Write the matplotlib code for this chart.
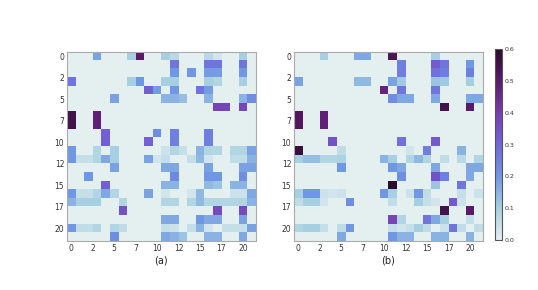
import numpy as np
import matplotlib
matplotlib.use("Agg")
import matplotlib.pyplot as plt
from matplotlib.colors import LinearSegmentedColormap
from matplotlib.ticker import FormatStrFormatter

# 22x22 weight maps
mat_a = [
    [0, 0, 0, .18, 0, 0, 0, .10, .50, 0, 0, .10, .07, 0, 0, 0, .07, .03, 0, 0, .10, 0],
    [0, 0, 0, 0, 0, 0, 0, 0, 0, 0, 0, 0, .27, 0, 0, 0, .27, .27, 0, 0, .27, 0],
    [0, 0, 0, 0, 0, 0, 0, 0, 0, 0, 0, 0, .20, 0, .20, 0, .19, .19, 0, 0, .20, 0],
    [.27, 0, 0, 0, 0, 0, 0, .10, .20, 0, 0, .10, .10, 0, 0, 0, .10, .08, 0, 0, .10, 0],
    [0, 0, 0, 0, 0, 0, 0, 0, 0, .32, .19, 0, .20, 0, 0, .28, .19, 0, 0, 0, 0, 0],
    [0, 0, 0, 0, 0, .18, 0, 0, 0, 0, 0, .15, .15, .13, 0, 0, .15, 0, 0, 0, .15, .22],
    [0, 0, 0, 0, 0, 0, 0, 0, 0, 0, 0, 0, 0, 0, 0, 0, 0, .38, .38, 0, .38, 0],
    [.55, 0, 0, .48, 0, 0, 0, 0, 0, 0, 0, 0, 0, 0, 0, 0, 0, 0, 0, 0, 0, 0],
    [.55, 0, 0, .48, 0, 0, 0, 0, 0, 0, 0, 0, 0, 0, 0, 0, 0, 0, 0, 0, 0, 0],
    [0, 0, 0, 0, .32, 0, 0, 0, 0, 0, .22, 0, .25, 0, 0, 0, .25, 0, 0, 0, 0, 0],
    [0, 0, 0, 0, .32, 0, 0, 0, 0, .32, 0, 0, .25, 0, 0, 0, .25, 0, 0, 0, 0, 0],
    [.20, 0, 0, .08, 0, .10, 0, 0, 0, 0, 0, .04, .08, .05, 0, .15, .08, .08, 0, .08, .08, .18],
    [.20, .05, .05, .08, .17, .10, 0, 0, 0, .18, .03, .05, 0, 0, .05, .14, .03, 0, 0, .06, .06, .15],
    [0, 0, 0, 0, 0, .18, 0, 0, 0, 0, 0, .17, .17, 0, 0, 0, .18, 0, 0, 0, .18, .18],
    [0, 0, .20, 0, 0, 0, 0, 0, 0, 0, 0, 0, .23, 0, 0, 0, .20, .20, 0, 0, .22, 0],
    [0, 0, 0, 0, .32, 0, 0, 0, 0, 0, 0, .15, .15, 0, 0, 0, .14, .12, 0, .15, .15, 0],
    [.20, .05, .05, .08, .17, .08, 0, 0, 0, .18, 0, .03, 0, 0, .03, .14, 0, 0, 0, .04, .04, .17],
    [.15, .10, .10, .10, 0, 0, .08, 0, 0, 0, 0, .08, .08, 0, .08, .14, .08, .08, .08, .08, .08, .15],
    [0, 0, 0, 0, 0, 0, .35, 0, 0, 0, 0, 0, 0, 0, 0, 0, 0, .37, 0, 0, .37, 0],
    [0, 0, 0, 0, 0, 0, 0, 0, 0, 0, 0, .17, .17, 0, 0, .20, .17, .17, 0, 0, .18, 0],
    [.20, .06, .06, .08, 0, .08, .06, 0, 0, 0, 0, .05, .04, 0, .05, .15, .03, 0, .05, .05, .05, .18],
    [0, 0, 0, 0, 0, .22, 0, 0, 0, 0, 0, .17, .15, .12, 0, 0, .15, .15, 0, 0, .17, 0],
]

mat_b = [
    [0, 0, 0, .10, 0, 0, 0, .17, .17, 0, 0, .53, 0, 0, 0, 0, .10, 0, 0, 0, 0, 0],
    [0, 0, 0, 0, 0, 0, 0, 0, 0, 0, 0, 0, .25, 0, 0, 0, .33, .27, 0, 0, .20, 0],
    [0, 0, 0, 0, 0, 0, 0, 0, 0, 0, 0, 0, .25, 0, 0, 0, .28, .25, 0, 0, .25, 0],
    [.18, 0, 0, 0, 0, 0, 0, .14, .14, 0, 0, .18, .11, 0, 0, 0, .12, .11, 0, 0, .10, 0],
    [0, 0, 0, 0, 0, 0, 0, 0, 0, 0, .47, 0, .27, 0, 0, 0, .27, 0, 0, 0, 0, 0],
    [0, 0, 0, 0, 0, 0, 0, 0, 0, 0, 0, .22, .17, .17, 0, 0, .17, 0, 0, 0, .17, .17],
    [0, 0, 0, 0, 0, 0, 0, 0, 0, 0, 0, 0, 0, 0, 0, 0, 0, .55, 0, 0, .50, 0],
    [.52, 0, 0, .48, 0, 0, 0, 0, 0, 0, 0, 0, 0, 0, 0, 0, 0, 0, 0, 0, 0, 0],
    [.52, 0, 0, .48, 0, 0, 0, 0, 0, 0, 0, 0, 0, 0, 0, 0, 0, 0, 0, 0, 0, 0],
    [0, 0, 0, 0, 0, 0, 0, 0, 0, 0, 0, 0, 0, 0, 0, 0, 0, 0, 0, 0, 0, 0],
    [0, 0, 0, 0, .35, 0, 0, 0, 0, 0, 0, 0, .28, 0, 0, 0, .33, 0, 0, 0, 0, 0],
    [.57, 0, 0, 0, 0, .06, 0, 0, 0, 0, 0, 0, 0, .03, 0, .25, 0, 0, 0, .15, 0, 0],
    [.10, .13, .13, .08, .08, .09, 0, 0, 0, 0, .15, .10, 0, .08, .14, .08, 0, .06, 0, .07, 0, .08],
    [0, 0, 0, 0, 0, .20, 0, 0, 0, 0, 0, .20, .17, 0, 0, 0, .17, 0, 0, 0, .17, .17],
    [0, 0, 0, 0, 0, 0, 0, 0, 0, 0, 0, 0, .22, 0, 0, 0, .35, .25, 0, 0, .17, 0],
    [0, 0, 0, 0, 0, 0, 0, 0, 0, 0, 0, .60, 0, 0, 0, 0, .12, 0, 0, .27, 0, 0],
    [.10, .20, .20, .04, .03, .04, 0, 0, 0, 0, .20, .10, 0, .04, .20, .06, 0, 0, 0, .05, 0, .04],
    [.06, .10, .10, .03, 0, 0, .22, 0, 0, 0, 0, .06, 0, 0, .10, .05, .03, 0, .33, .04, 0, 0],
    [0, 0, 0, 0, 0, 0, 0, 0, 0, 0, 0, 0, 0, 0, 0, 0, 0, .55, 0, 0, .50, 0],
    [0, 0, 0, 0, 0, 0, 0, 0, 0, 0, 0, .38, .08, 0, 0, .27, .17, .10, 0, 0, .05, 0],
    [.08, .10, .10, .05, 0, .06, .20, 0, 0, 0, 0, .05, .03, .05, .10, .06, 0, .04, .27, .06, 0, .06],
    [0, 0, 0, 0, 0, .17, 0, 0, 0, 0, 0, .20, .15, .15, 0, 0, .15, .15, 0, 0, .15, 0],
]

panel_labels = ["(a)", "(b)"]
tick_pos = np.arange(0, 21, 2.5)
cbar_ticks = [0.0, 0.1, 0.2, 0.3, 0.4, 0.5, 0.6]

cmap = LinearSegmentedColormap.from_list(
    "lightblue_purple",
    ["#e4eff0", "#a6cfe2", "#6f97e4", "#7168da", "#783db0", "#5c1a6a", "#2c0b2c"])

fig = plt.figure(figsize=(5.38, 2.90), dpi=100)
axes = [fig.add_axes([0.1245, 0.169, 0.351, 0.652]),
        fig.add_axes([0.5465, 0.169, 0.351, 0.652])]

for ax, mat, lab in zip(axes, [mat_a, mat_b], panel_labels):
    im = ax.imshow(np.array(mat), cmap=cmap, vmin=0, vmax=0.6,
                   interpolation="nearest", aspect="auto")
    ax.set_xticks(tick_pos)
    ax.set_yticks(tick_pos)
    ax.xaxis.set_major_formatter(FormatStrFormatter("%d"))
    ax.yaxis.set_major_formatter(FormatStrFormatter("%d"))
    ax.tick_params(length=0, labelsize=5.5, labelcolor="#333333", pad=2)
    for sp in ax.spines.values():
        sp.set_color("#aaaaaa")
        sp.set_linewidth(0.8)
    ax.set_xlabel(lab, fontsize=7, labelpad=2, color="#222222")

cax = fig.add_axes([0.920, 0.172, 0.013, 0.659])
cb = fig.colorbar(im, cax=cax, ticks=cbar_ticks)
cb.ax.tick_params(length=0, labelsize=4.5, labelcolor="#333333", pad=2)
cb.ax.yaxis.set_major_formatter(FormatStrFormatter("%.1f"))
cb.outline.set_edgecolor("#555555")
cb.outline.set_linewidth(0.8)

plt.savefig("out.png", dpi=100)
plt.close()
